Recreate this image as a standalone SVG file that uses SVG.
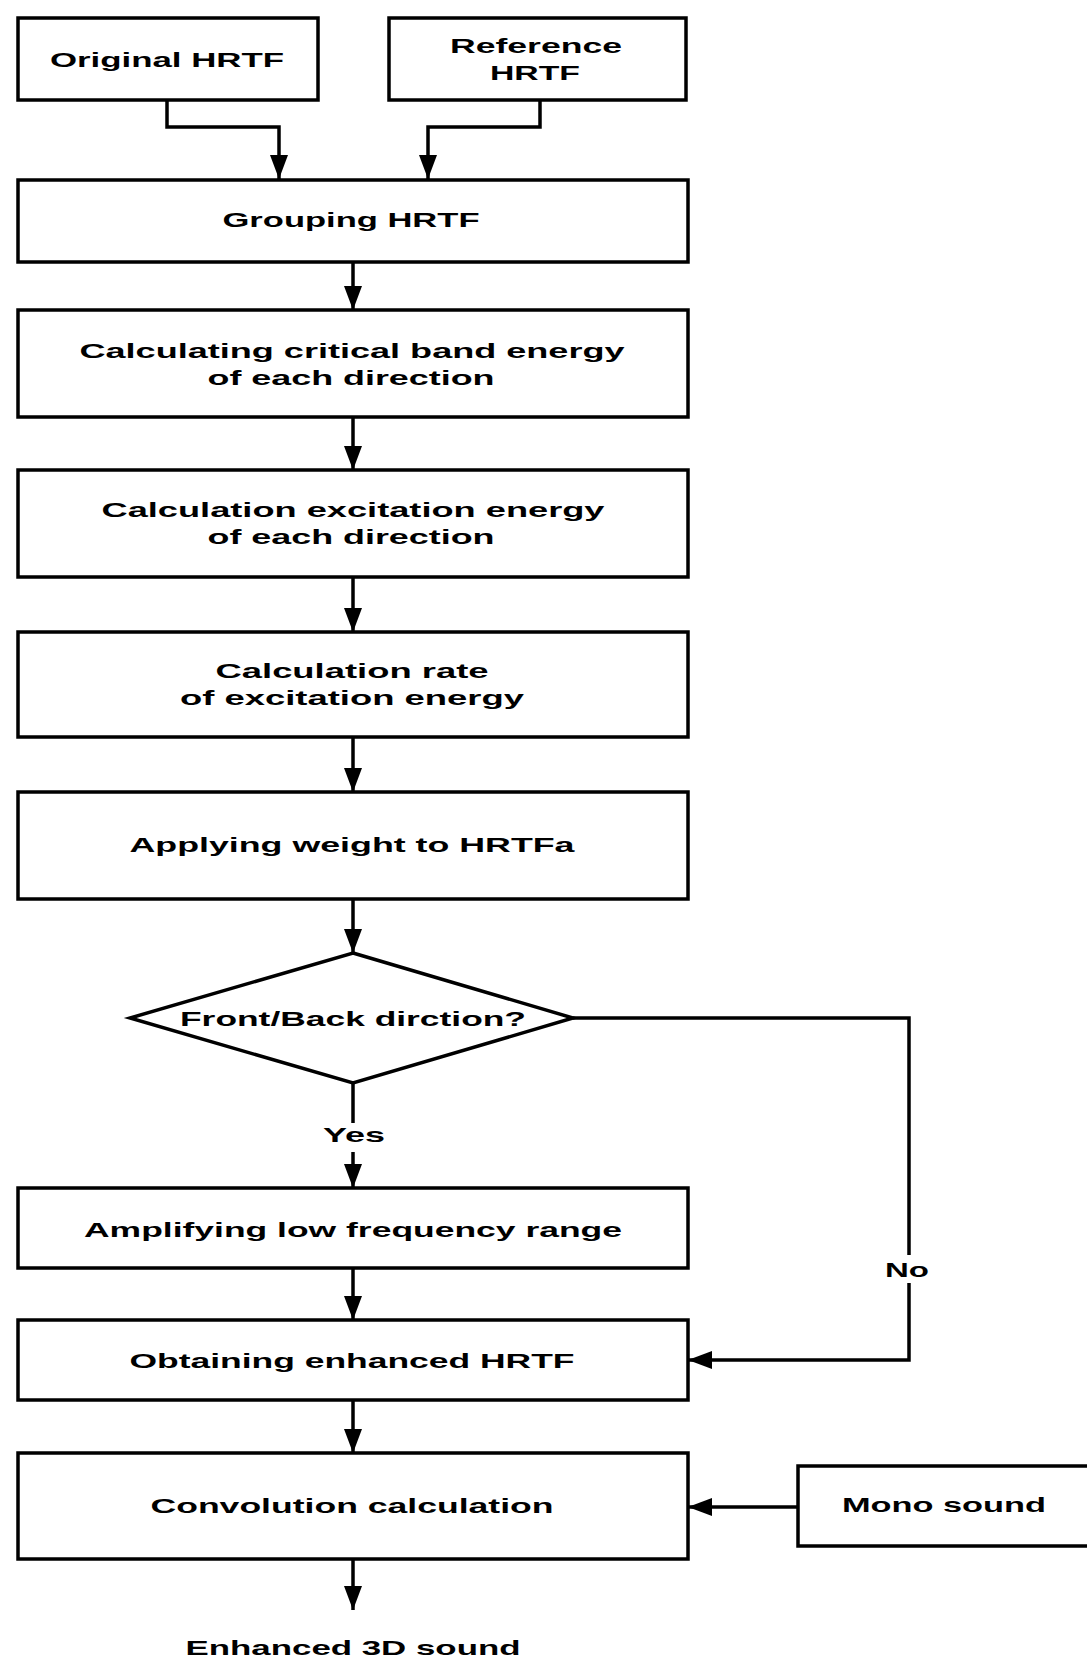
<svg xmlns="http://www.w3.org/2000/svg" width="1087" height="1659" viewBox="0 0 1087 1659">
<style>
.box{fill:#fff;stroke:#000;stroke-width:3.5}
.t{font-family:"Liberation Sans",Arial,sans-serif;font-weight:bold;font-size:21px;fill:#000}
.ln{fill:none;stroke:#000;stroke-width:3.5}
</style>
<defs>
<marker id="ah" viewBox="0 0 24 18" refX="24" refY="9" markerWidth="24" markerHeight="18" markerUnits="userSpaceOnUse" orient="auto">
<path d="M0,0 L24,9 L0,18 z" fill="#000"/>
</marker>
</defs>
<rect width="1087" height="1659" fill="#fff"/>
<g id="connectors">
<polyline class="ln" points="167,100 167,127 279,127 279,179" marker-end="url(#ah)"/>
<polyline class="ln" points="540,100 540,127 428,127 428,179" marker-end="url(#ah)"/>
<line class="ln" x1="353" y1="262" x2="353" y2="310" marker-end="url(#ah)"/>
<line class="ln" x1="353" y1="417" x2="353" y2="470" marker-end="url(#ah)"/>
<line class="ln" x1="353" y1="577" x2="353" y2="632" marker-end="url(#ah)"/>
<line class="ln" x1="353" y1="737" x2="353" y2="792" marker-end="url(#ah)"/>
<line class="ln" x1="353" y1="899" x2="353" y2="953" marker-end="url(#ah)"/>
<line class="ln" x1="353" y1="1083" x2="353" y2="1123"/>
<line class="ln" x1="353" y1="1152" x2="353" y2="1188" marker-end="url(#ah)"/>
<line class="ln" x1="353" y1="1268" x2="353" y2="1320" marker-end="url(#ah)"/>
<line class="ln" x1="353" y1="1400" x2="353" y2="1453" marker-end="url(#ah)"/>
<line class="ln" x1="353" y1="1559" x2="353" y2="1610" marker-end="url(#ah)"/>
<polyline class="ln" points="573,1018 909,1018 909,1255"/>
<polyline class="ln" points="909,1283 909,1360 688,1360" marker-end="url(#ah)"/>
<line class="ln" x1="798" y1="1507" x2="688" y2="1507" marker-end="url(#ah)"/>
<text class="t" x="354" y="1142" text-anchor="middle" textLength="62" lengthAdjust="spacingAndGlyphs">Yes</text>
<text class="t" x="907" y="1277" text-anchor="middle" textLength="44" lengthAdjust="spacingAndGlyphs">No</text>
</g>
<g id="original">
<rect class="box" x="18" y="18" width="300" height="82"/>
<text class="t" x="167" y="67" text-anchor="middle" textLength="234" lengthAdjust="spacingAndGlyphs">Original HRTF</text>
</g>
<g id="reference">
<rect class="box" x="389" y="18" width="297" height="82"/>
<text class="t" x="536" y="53" text-anchor="middle" textLength="172" lengthAdjust="spacingAndGlyphs">Reference</text>
<text class="t" x="535" y="80" text-anchor="middle" textLength="90" lengthAdjust="spacingAndGlyphs">HRTF</text>
</g>
<g id="grouping">
<rect class="box" x="18" y="180" width="670" height="82"/>
<text class="t" x="351" y="227" text-anchor="middle" textLength="257" lengthAdjust="spacingAndGlyphs">Grouping HRTF</text>
</g>
<g id="critical">
<rect class="box" x="18" y="310" width="670" height="107"/>
<text class="t" x="352" y="358" text-anchor="middle" textLength="545" lengthAdjust="spacingAndGlyphs">Calculating critical band energy</text>
<text class="t" x="351" y="385" text-anchor="middle" textLength="287" lengthAdjust="spacingAndGlyphs">of each direction</text>
</g>
<g id="excitation">
<rect class="box" x="18" y="470" width="670" height="107"/>
<text class="t" x="353" y="517" text-anchor="middle" textLength="503" lengthAdjust="spacingAndGlyphs">Calculation excitation energy</text>
<text class="t" x="351" y="544" text-anchor="middle" textLength="287" lengthAdjust="spacingAndGlyphs">of each direction</text>
</g>
<g id="rate">
<rect class="box" x="18" y="632" width="670" height="105"/>
<text class="t" x="352" y="678" text-anchor="middle" textLength="273" lengthAdjust="spacingAndGlyphs">Calculation rate</text>
<text class="t" x="352" y="705" text-anchor="middle" textLength="344" lengthAdjust="spacingAndGlyphs">of excitation energy</text>
</g>
<g id="applying">
<rect class="box" x="18" y="792" width="670" height="107"/>
<text class="t" x="352" y="852" text-anchor="middle" textLength="445" lengthAdjust="spacingAndGlyphs">Applying weight to HRTFa</text>
</g>
<g id="decision">
<polygon class="box" points="353,953 573,1018 353,1083 130,1018"/>
<text class="t" x="353" y="1026" text-anchor="middle" textLength="346" lengthAdjust="spacingAndGlyphs">Front/Back dirction?</text>
</g>
<g id="amplifying">
<rect class="box" x="18" y="1188" width="670" height="80"/>
<text class="t" x="353" y="1237" text-anchor="middle" textLength="538" lengthAdjust="spacingAndGlyphs">Amplifying low frequency range</text>
</g>
<g id="obtaining">
<rect class="box" x="18" y="1320" width="670" height="80"/>
<text class="t" x="352" y="1368" text-anchor="middle" textLength="445" lengthAdjust="spacingAndGlyphs">Obtaining enhanced HRTF</text>
</g>
<g id="convolution">
<rect class="box" x="18" y="1453" width="670" height="106"/>
<text class="t" x="352" y="1513" text-anchor="middle" textLength="403" lengthAdjust="spacingAndGlyphs">Convolution calculation</text>
</g>
<g id="mono">
<rect class="box" x="798" y="1466" width="300" height="80"/>
<text class="t" x="944" y="1512" text-anchor="middle" textLength="204" lengthAdjust="spacingAndGlyphs">Mono sound</text>
</g>
<g id="output">
<text class="t" x="353" y="1655" text-anchor="middle" textLength="335" lengthAdjust="spacingAndGlyphs">Enhanced 3D sound</text>
</g>
</svg>
